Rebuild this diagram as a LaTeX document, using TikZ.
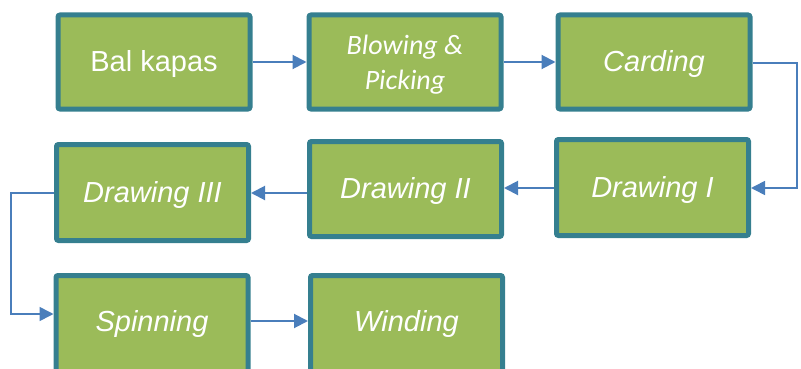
\documentclass[tikz,border=0pt]{standalone}
\usepackage{fontspec}
\setmainfont{Liberation Sans}
\newfontfamily\calfont{Carlito}
\usetikzlibrary{arrows.meta}
\definecolor{boxfill}{HTML}{9BBB59}
\definecolor{boxline}{HTML}{357F8F}
\definecolor{arrowc}{HTML}{4A7EBB}
\begin{document}
\begin{tikzpicture}[x=1pt,y=-1pt,
  procbox/.style={draw=boxline, fill=boxfill, line width=5pt, rounded corners=2pt,
    minimum width=192pt, minimum height=94pt, inner sep=0pt, text=white,
    text height=24pt, text depth=5pt,
    font=\fontsize{29}{34}\selectfont\itshape, align=center},
  cutbox/.style={procbox, minimum height=101pt, text depth=13pt},
  flow/.style={draw=arrowc, line width=2pt, -{Triangle[length=14pt,width=14pt]}},
  elbow/.style={draw=arrowc, line width=1.6pt, -{Triangle[length=14pt,width=14pt]}}]
\useasboundingbox (0,0) rectangle (801,369);
\node[procbox, font=\fontsize{29}{34}\selectfont\upshape] (b1) at (154,62) {Bal kapas};
\node[procbox, text height=62pt, text depth=7pt, font=\calfont\fontsize{28}{35}\selectfont\itshape] (b2) at (405,62) {Blowing \&\\Picking};
\node[procbox] (b3) at (654,62) {Carding};
\node[procbox, minimum height=96pt] (b4) at (652.5,187.5) {Drawing I};
\node[procbox, minimum height=95pt] (b5) at (405.5,189) {Drawing II};
\node[procbox, minimum height=96pt] (b6) at (152.5,192.5) {Drawing III};
\node[cutbox] (b7) at (152,326) {Spinning};
\node[cutbox] (b8) at (406.5,326) {Winding};
\coordinate (c1) at (797,63);
\coordinate (c2) at (797,188);
\coordinate (c3) at (11,193);
\coordinate (c4) at (11,314);
\draw[flow] (b1.east) -- (b2.west);
\draw[flow] (b2.east) -- (b3.west);
\draw[elbow] (b3.east |- c1) -- (c1) -- (c2) -- (b4.east |- c2);
\draw[flow] (b4.west |- c2) -- (b5.east |- c2);
\draw[flow] (b5.west |- c3) -- (b6.east |- c3);
\draw[elbow] (b6.west |- c3) -- (c3) -- (c4) -- (b7.west |- c4);
\draw[flow] (b7.east |- 0,321) -- (b8.west |- 0,321);
\end{tikzpicture}
\end{document}
